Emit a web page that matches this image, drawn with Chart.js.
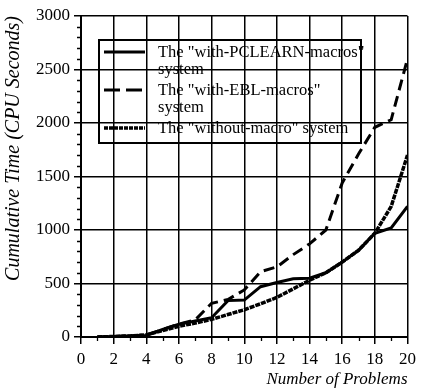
<!DOCTYPE html>
<html>
<head>
<meta charset="utf-8">
<script src="https://cdn.jsdelivr.net/npm/chart.js@4.4.1/dist/chart.umd.min.js"></script>
<style>
  html, body { margin: 0; padding: 0; background: #fff; }
  #wrap { width: 421px; height: 392px; }
</style>
</head>
<body>
<div id="wrap"><canvas id="chart" width="421" height="392"></canvas></div>
<script>
// valeurs
var problems     = [1, 2, 3, 4, 5, 6, 7, 8, 9, 10, 11, 12, 13, 14, 15, 16, 17, 18, 19, 20];
var pclearn      = [0, 5, 10, 15, 70, 120, 150, 180, 340, 345, 470, 510, 545, 550, 600, 700, 810, 970, 1020, 1220];
var ebl          = [0, 5, 10, 20, 70, 120, 160, 315, 350, 440, 610, 655, 770, 870, 1000, 1440, 1710, 1960, 2030, 2600];
var withoutMacro = [0, 5, 10, 20, 60, 100, 130, 165, 210, 255, 310, 370, 450, 530, 600, 700, 810, 970, 1220, 1700];
var xMinorTicks  = [1, 3, 5, 7, 9, 11, 13, 15, 17, 19];
var yMinorTicks  = [];
for (var v = 100; v < 3000; v += 100) { if (v % 500 !== 0) yMinorTicks.push(v); }

var SERIF = "'Liberation Serif', 'DejaVu Serif', serif";

function _pts(ys) {
  return problems.map(function(x, i) { return { x: x, y: ys[i] }; });
}

// petites graduations intermédiaires
var minorTicks = {
  id: "minorTicks",
  afterDraw: function(chart) {
    var ctx = chart.ctx, xs = chart.scales.x, ys = chart.scales.y;
    ctx.save();
    ctx.strokeStyle = "#000";
    ctx.lineWidth = 1.3;
    ctx.beginPath();
    xMinorTicks.forEach(function(t) {
      var px = Math.round(xs.getPixelForValue(t)) + 0.5;
      ctx.moveTo(px, ys.bottom); ctx.lineTo(px, ys.bottom + 4);
    });
    yMinorTicks.forEach(function(t) {
      var py = Math.round(ys.getPixelForValue(t)) + 0.5;
      ctx.moveTo(xs.left, py); ctx.lineTo(xs.left - 4, py);
    });
    ctx.stroke();
    ctx.restore();
  }
};

// légende encadrée, transparente (la grille passe dessous)
var boxLegend = {
  id: "boxLegend",
  afterDraw: function(chart) {
    var ctx = chart.ctx;
    var bx = 99, by = 40, bw = 262, bh = 103;
    ctx.save();
    ctx.strokeStyle = "#000";
    ctx.lineWidth = 2;
    ctx.strokeRect(bx, by, bw, bh);
    var rows = [52, 90, 128];
    ctx.font = "16.5px " + SERIF;
    ctx.fillStyle = "#000";
    ctx.textBaseline = "middle";
    chart.data.datasets.forEach(function(ds, i) {
      var y = rows[i];
      ctx.beginPath();
      ctx.setLineDash(ds.legendDash || []);
      ctx.lineWidth = ds.borderWidth;
      ctx.moveTo(104, y); ctx.lineTo(145, y);
      ctx.stroke();
      ctx.setLineDash([]);
      var lines = ds.label.split("\n");
      lines.forEach(function(t, k) {
        ctx.fillText(t, 158, y + 1 + k * 17);
      });
    });
    ctx.restore();
  }
};

new Chart(document.getElementById("chart"), {
  type: "line",
  data: {
    datasets: [
      {
        label: "The \"with-PCLEARN-macros\"\nsystem",
        data: _pts(pclearn),
        borderColor: "#000",
        borderWidth: 3,
        pointRadius: 0,
        tension: 0
      },
      {
        label: "The \"with-EBL-macros\"\nsystem",
        data: _pts(ebl),
        borderColor: "#000",
        borderWidth: 3,
        borderDash: [11, 6],
        legendDash: [16, 6],
        pointRadius: 0,
        tension: 0
      },
      {
        label: "The \"without-macro\" system",
        data: _pts(withoutMacro),
        borderColor: "#000",
        borderWidth: 3.5,
        borderDash: [5, 1],
        legendDash: [4, 1],
        pointRadius: 0,
        tension: 0
      }
    ]
  },
  options: {
    responsive: false,
    animation: false,
    layout: { padding: { top: 16, right: 6, left: 0, bottom: 0 } },
    plugins: {
      legend: { display: false },
      tooltip: { enabled: false }
    },
    scales: {
      x: {
        type: "linear",
        min: 0, max: 20,
        afterFit: function(s) { s.height = 55; },
        ticks: {
          stepSize: 2, padding: 5,
          color: "#000",
          font: { family: SERIF, size: 17 },
          callback: function(v) { return String(v); }
        },
        grid: { color: "#000", lineWidth: 1.5, tickLength: 7, tickColor: "#000" },
        border: { display: true, color: "#000", width: 2 },
        title: {
          display: true, align: "end",
          text: "Number of Problems",
          color: "#000",
          font: { family: SERIF, size: 17, style: "italic" },
          padding: { top: 0, bottom: 2 }
        }
      },
      y: {
        min: 0, max: 3000,
        afterFit: function(s) { s.width = 81; },
        ticks: {
          stepSize: 500, padding: 4,
          color: "#000",
          font: { family: SERIF, size: 17 },
          callback: function(v) { return String(v); }
        },
        grid: { color: "#000", lineWidth: 1.5, tickLength: 7, tickColor: "#000" },
        border: { display: true, color: "#000", width: 2 },
        title: {
          display: true, align: "end",
          text: "Cumulative Time (CPU Seconds)",
          color: "#000",
          font: { family: SERIF, size: 20, style: "italic" },
          padding: { top: 2, bottom: 0 }
        }
      }
    }
  },
  plugins: [minorTicks, boxLegend]
});
</script>
</body>
</html>
